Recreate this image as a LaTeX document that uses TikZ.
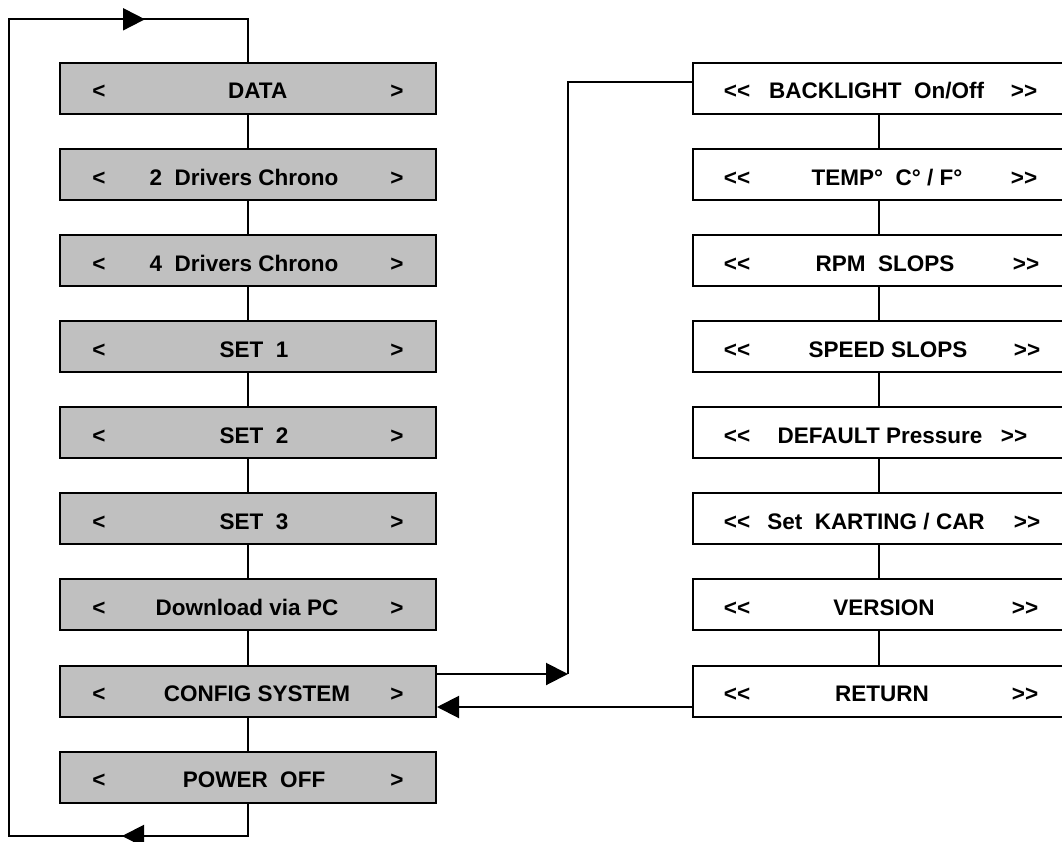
\documentclass[tikz,border=0pt]{standalone}
\usepackage{fontspec}
\setmainfont{Liberation Sans}
\usetikzlibrary{arrows.meta}
\definecolor{boxgray}{RGB}{192,192,192}
\newcommand{\dl}{<\kern0pt<}
\newcommand{\dr}{>\kern0pt>}
\begin{document}
\begin{tikzpicture}[x=1pt,y=-1pt,line width=2pt,
  menubox/.style={draw=black,fill=boxgray,minimum width=376pt,minimum height=51pt,inner sep=0pt},
  subbox/.style={draw=black,fill=white,minimum width=372pt,minimum height=51pt,inner sep=0pt},
  lbl/.style={font=\bfseries\fontsize{22.5}{27}\selectfont,inner sep=0pt,anchor=base},
  tip/.style={-{Triangle[length=22pt,width=22pt]}}]
\useasboundingbox (0,0) rectangle (1062,842);
% left column
\node[menubox] (L0) at (248,88.3) {};
\node[menubox] (L1) at (248,174.4) {};
\node[menubox] (L2) at (248,260.5) {};
\node[menubox] (L3) at (248,346.6) {};
\node[menubox] (L4) at (248,432.7) {};
\node[menubox] (L5) at (248,518.8) {};
\node[menubox] (L6) at (248,604.9) {};
\node[menubox] (L7) at (248,691.0) {};
\node[menubox] (L8) at (248,777.1) {};
% right column
\node[subbox] (R0) at (879,88.3) {};
\node[subbox] (R1) at (879,174.4) {};
\node[subbox] (R2) at (879,260.5) {};
\node[subbox] (R3) at (879,346.6) {};
\node[subbox] (R4) at (879,432.7) {};
\node[subbox] (R5) at (879,518.8) {};
\node[subbox] (R6) at (879,604.9) {};
\node[subbox] (R7) at (879,691.0) {};
% left texts
\foreach \i/\y in {0/99,1/185.1,2/271.2,3/357.3,4/443.4,5/529.5,6/615.6,7/701.7,8/787.8}{
  \node[lbl] (La\i) at (99,\y) {<};
  \node[lbl] (Lb\i) at (397,\y) {>};
}
\node[lbl] (Lt0) at (257.7,99) {DATA};
\node[lbl] (Lt1) at (244,185.1) {2~ Drivers Chrono};
\node[lbl] (Lt2) at (244,271.2) {4~ Drivers Chrono};
\node[lbl] (Lt3) at (254,357.3) {SET~ 1};
\node[lbl] (Lt4) at (254,443.4) {SET~ 2};
\node[lbl] (Lt5) at (254,529.5) {SET~ 3};
\node[lbl] (Lt6) at (247,615.6) {Download via PC};
\node[lbl] (Lt7) at (257,701.7) {CONFIG SYSTEM};
\node[lbl] (Lt8) at (254,787.8) {POWER~ OFF};
% right texts
\foreach \i/\y/\rx in {0/99/1024,1/185.1/1024,2/271.2/1026,3/357.3/1027,4/443.4/1014,5/529.5/1027,6/615.6/1025,7/701.7/1025}{
  \node[lbl] (Ra\i) at (737,\y) {\dl};
  \node[lbl] (Rb\i) at (\rx,\y) {\dr};
}
\node[lbl] (Rt0) at (876.6,99) {BACKLIGHT~ On/Off};
\node[lbl] (Rt1) at (887,185.1) {TEMP°~ C° / F°};
\node[lbl] (Rt2) at (885,271.2) {RPM~ SLOPS};
\node[lbl] (Rt3) at (888,357.3) {SPEED SLOPS};
\node[lbl] (Rt4) at (880,443.4) {DEFAULT Pressure};
\node[lbl] (Rt5) at (876,529.5) {Set~ KARTING / CAR};
\node[lbl] (Rt6) at (884,615.6) {VERSION};
\node[lbl] (Rt7) at (882,701.7) {RETURN};
% vertical links
\foreach \a/\b in {0/1,1/2,2/3,3/4,4/5,5/6,6/7,7/8}{
  \draw (L\a.south) -- (L\b.north);
}
\foreach \a/\b in {0/1,1/2,2/3,3/4,4/5,5/6,6/7}{
  \draw (R\a.south) -- (R\b.north);
}
% loop
\coordinate (topR) at (248,19.3);
\coordinate (topL) at (9,19.3);
\coordinate (botL) at (9,836);
\coordinate (botR) at (248,836);
\coordinate (topArrow) at (145,19.3);
\coordinate (botArrow) at (122,836);
\draw (L8.south) -- (botR) -- (botL) -- (topL) -- (topR) -- (L0.north);
\draw[tip] (topL) -- (topArrow);
\draw[tip] (botR) -- (botArrow);
% config to submenu
\coordinate (c1) at (568,674);
\coordinate (c2) at (568,82.4);
\coordinate (ret) at (0,707);
\draw[tip] (L7.east |- c1) -- (c1);
\draw (c1) -- (c2) -- (R0.west |- c2);
\draw[tip] (R7.west |- ret) -- (L7.east |- ret);
\end{tikzpicture}
\end{document}
